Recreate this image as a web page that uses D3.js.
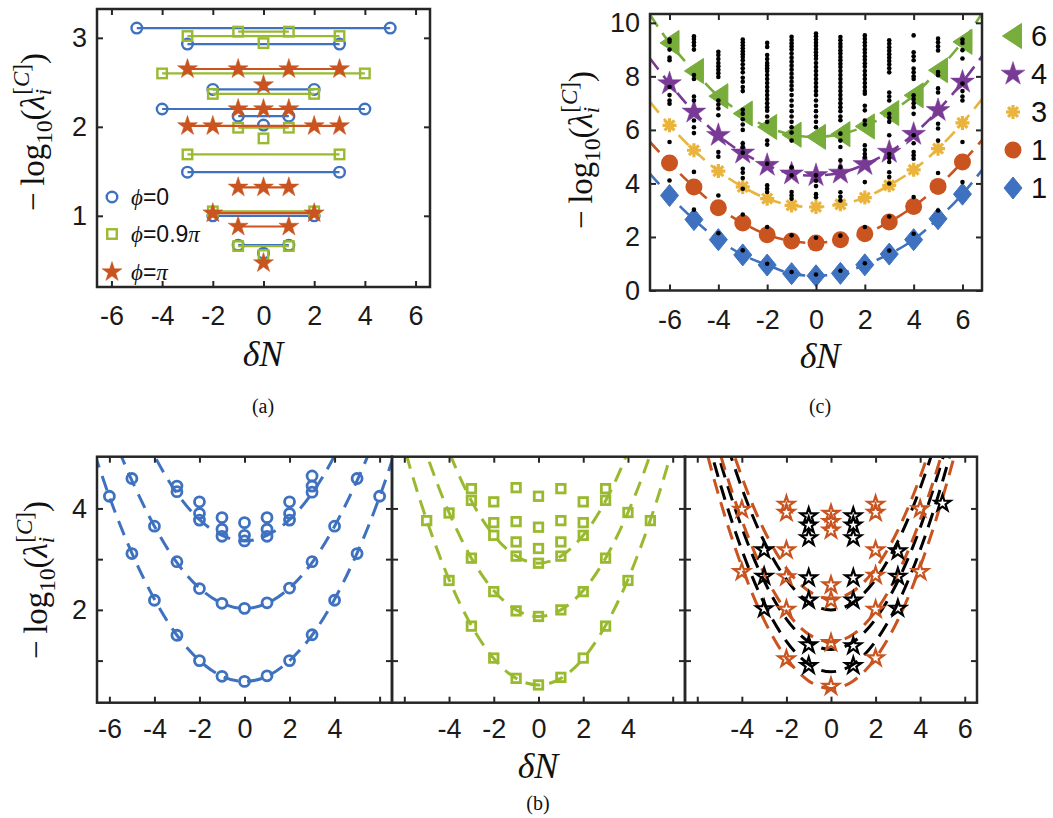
<!DOCTYPE html>
<html><head><meta charset="utf-8">
<script src="https://cdn.jsdelivr.net/npm/d3@7"></script>
<style>body{margin:0;background:#fff}svg{display:block}</style>
</head><body>
<svg id="chart" width="1053" height="818"></svg>
<script>
// ---------------- DATA ----------------
// Panel (a): levels and the deltaN positions of markers on each level
const aBlueLevel = [3.11, 2.93, 2.42, 2.20, 2.12, 2.02, 1.49, 1.00, 0.67, 0.58];
const aBlueDN = [[-5,5],[-3,3],[-2,2],[-4,4],[-1,1],[0],[-3,3],[-2,2],[-1,1],[0]];
const aGreenLevel = [3.07, 3.02, 2.94, 2.60, 2.37, 1.99, 1.87, 1.69, 1.05, 0.66, 0.56];
const aGreenDN = [[-1,1],[-3,3],[0],[-4,4],[-2,2],[-1,1],[0],[-3,3],[-2,2],[-1,1],[0]];
const aOrangeLevel = [2.65, 2.47, 2.20, 2.01, 1.32, 1.03, 0.88, 0.47];
const aOrangeDN = [[-3,-1,1,3],[0],[-1,0,1],[-3,-2,2,3],[-1,0,1],[-2,2],[-1,1],[0]];
const aLegend = ["0", "0.9", ""];
const aXTicks = [-6,-4,-2,0,2,4,6];
const aYTicks = [1,2,3];

// Panel (c)
const cDeltaN = [-6,-5,-4,-3,-2,-1,0,1,2,3,4,5,6];
const cBlue   = [3.55, 2.65, 1.90, 1.33, 0.95, 0.63, 0.55, 0.64, 0.96, 1.36, 1.90, 2.68, 3.60];
const cOrange = [4.76, 3.87, 3.09, 2.52, 2.08, 1.85, 1.77, 1.90, 2.12, 2.56, 3.14, 3.89, 4.80];
const cYellow = [6.17, 5.24, 4.46, 3.87, 3.43, 3.18, 3.12, 3.22, 3.47, 3.93, 4.51, 5.30, 6.26];
const cPurple = [7.73, 6.67, 5.80, 5.14, 4.68, 4.36, 4.30, 4.39, 4.71, 5.17, 5.84, 6.73, 7.79];
const cGreen  = [9.25, 8.20, 7.26, 6.61, 6.11, 5.82, 5.74, 5.84, 6.13, 6.63, 7.29, 8.23, 9.29];
const cEdgeX = [-6.8, 6.8];
const cBlueEdge = [4.36, 4.50];
const cOrangeEdge = [5.55, 5.62];
const cYellowEdge = [7.05, 7.15];
const cPurpleEdge = [8.67, 8.75];
const cGreenEdge = [10.30, 10.35];
const cLegendLabels = ["6", "4", "3", "1", "1"];
const cDotColumns = [
  [9.38, 9.29, 9.0, 8.7, 8.6, 7.6, 7.3, 7.1, 6.98, 5.55, 4.11],
  [9.5, 9.4, 9.27, 9.15, 9.0, 8.05, 7.9, 7.25, 7.1, 6.35, 6.1, 5.88, 4.43, 3.02],
  [8.92, 8.8, 8.65, 8.5, 8.38, 8.25, 8.12, 7.98, 7.1, 6.95, 6.8, 6.55, 5.17, 5.0, 3.55, 2.14],
  [9.38, 9.27, 9.16, 9.05, 8.94, 8.83, 8.72, 8.6, 8.45, 8.3, 8.15, 7.95, 7.8, 7.6, 7.45, 6.75, 6.6, 6.4, 6.2, 6.0, 5.5, 5.35, 5.15, 4.55, 4.4, 4.2, 3.8, 2.84, 1.5],
  [9.25, 9.1, 8.8, 8.65, 8.5, 8.4, 8.3, 8.2, 8.05, 7.9, 7.75, 7.6, 7.45, 7.3, 7.15, 7.0, 6.85, 6.72, 6.5, 6.3, 5.6, 5.45, 4.74, 3.93, 3.8, 3.68, 2.37, 1.0],
  [9.48, 9.36, 9.24, 9.12, 9.0, 8.85, 8.7, 8.55, 8.4, 8.25, 8.1, 7.95, 7.8, 7.65, 7.5, 7.3, 7.1, 6.9, 6.7, 6.5, 6.3, 6.1, 5.9, 5.6, 4.6, 4.3, 3.68, 3.55, 3.43, 2.06, 0.69],
  [9.6, 9.5, 9.38, 9.26, 9.14, 9.02, 8.9, 8.78, 8.66, 8.5, 8.35, 8.2, 8.05, 7.9, 7.75, 7.6, 7.45, 7.3, 7.1, 6.9, 6.7, 6.5, 6.3, 6.1, 4.3, 4.1, 3.9, 3.6, 3.48, 1.97, 0.6],
  [9.47, 9.35, 9.22, 9.1, 8.97, 8.85, 8.72, 8.6, 8.47, 8.35, 8.2, 8.05, 7.9, 7.75, 7.6, 7.45, 7.3, 7.15, 7.0, 6.85, 6.7, 6.5, 6.36, 5.86, 5.6, 5.36, 4.86, 4.61, 3.67, 3.5, 3.36, 2.05, 0.74],
  [9.53, 9.4, 9.27, 9.14, 9.01, 8.88, 8.75, 8.62, 8.49, 8.36, 8.2, 8.05, 7.9, 7.75, 7.6, 7.45, 7.35, 6.9, 6.73, 6.35, 6.2, 5.42, 5.25, 5.1, 4.98, 4.05, 2.37, 1.02],
  [9.35, 9.22, 9.09, 8.96, 8.83, 8.7, 8.57, 8.44, 8.3, 8.15, 7.4, 7.25, 7.1, 6.6, 6.45, 6.3, 5.8, 5.1, 4.95, 4.8, 4.42, 4.24, 4.0, 2.76, 1.49],
  [9.53, 8.9, 8.75, 8.6, 8.29, 8.15, 8.0, 7.9, 7.29, 7.15, 7.0, 6.85, 6.6, 5.8, 5.5, 5.17, 5.05, 4.92, 3.49, 2.12],
  [9.41, 9.27, 9.12, 8.97, 8.16, 8.04, 7.55, 7.4, 6.23, 6.05, 5.6, 4.39, 2.99],
  [9.38, 9.25, 8.98, 8.67, 7.73, 7.45, 7.25, 7.1, 5.55, 4.05]
];
const cXTicks = [-6,-4,-2,0,2,4,6];
const cYTicks = [0,2,4,6,8,10];

// Panel (b)
const bFitX = [-7,-6,-5,-4,-3,-2,-1,0,1,2,3,4,5,6,7];
const bBlueDN  = [-6,-5,-5,-4,-4,-3,-3,-3,-3,-2,-2,-2,-2,-2,-1,-1,-1,-1,-1,0,0,0,0,0,1,1,1,1,1,2,2,2,2,2,3,3,3,3,3,4,4,5,5,6];
const bBlueVal = [4.24,4.59,3.11,3.65,2.19,4.44,4.33,2.95,1.50,4.13,3.90,3.77,2.42,1.00,3.82,3.59,3.45,2.13,0.69,3.72,3.47,3.36,2.03,0.59,3.82,3.59,3.45,2.14,0.70,4.13,3.90,3.77,2.43,1.00,4.64,4.44,4.32,2.95,1.51,3.65,2.19,4.59,3.11,4.24];
const bBlueFit1 = [5.54,4.23,3.12,2.21,1.50,1.00,0.69,0.59,0.69,1.00,1.50,2.21,3.12,4.23,5.54];
const bBlueFit2 = [6.93,5.63,4.55,3.65,2.93,2.43,2.13,2.03,2.13,2.43,2.93,3.65,4.55,5.63,6.93];
const bBlueFit3 = [8.50,7.15,6.00,5.04,4.30,3.78,3.47,3.36,3.47,3.78,4.30,5.04,6.00,7.15,8.50];

const bGreenDN  = [-5,-4,-4,-3,-3,-3,-3,-2,-2,-2,-2,-2,-1,-1,-1,-1,-1,-1,0,0,0,0,0,0,1,1,1,1,1,1,2,2,2,2,2,3,3,3,3,4,4,5];
const bGreenVal = [3.76,3.91,2.58,4.39,4.16,3.02,1.68,4.13,3.72,3.47,2.36,1.05,4.41,3.74,3.34,3.06,1.98,0.65,4.24,3.63,3.21,2.92,1.87,0.52,4.39,3.76,3.34,3.06,2.00,0.67,4.13,3.72,3.47,2.36,1.05,4.39,4.16,3.02,1.68,3.92,2.58,3.76];
const bGreenFit1 = [6.90,5.20,3.77,2.60,1.69,1.04,0.65,0.52,0.65,1.04,1.69,2.60,3.77,5.20,6.90];
const bGreenFit2 = [8.10,6.50,5.07,3.92,3.02,2.38,2.00,1.87,2.00,2.38,3.02,3.92,5.07,6.50,8.10];
const bGreenFit3 = [9.60,7.85,6.35,5.12,4.15,3.47,3.06,2.92,3.06,3.47,4.15,5.12,6.35,7.85,9.60];

const bOrangeDN  = [-4,-4,-2,-2,-2,-2,-2,-2,0,0,0,0,0,0,0,2,2,2,2,2,2,4,4];
const bOrangeVal = [3.98,2.75,4.08,3.92,3.18,2.65,2.01,1.03,3.90,3.74,3.57,2.49,2.19,1.35,0.49,4.08,3.92,3.18,2.68,2.01,1.05,3.99,2.75];
const bBlackDN  = [-3,-3,-3,-1,-1,-1,-1,-1,-1,-1,1,1,1,1,1,1,1,3,3,3,5];
const bBlackVal = [3.18,2.66,2.02,3.85,3.67,3.42,2.63,2.19,1.31,0.90,3.85,3.67,3.42,2.63,2.19,1.29,0.90,3.16,2.66,2.03,4.10];
const bOrangeFit1 = [7.80,5.85,4.20,2.85,1.80,1.05,0.60,0.45,0.60,1.05,1.80,2.85,4.20,5.85,7.80];
const bOrangeFit2 = [8.72,6.77,5.12,3.77,2.72,1.97,1.52,1.37,1.52,1.97,2.72,3.77,5.12,6.77,8.72];
const bOrangeFit3 = [9.57,7.62,5.97,4.62,3.57,2.82,2.37,2.22,2.37,2.82,3.57,4.62,5.97,7.62,9.57];
const bBlackFit1 = [8.13,6.18,4.53,3.18,2.13,1.38,0.93,0.78,0.93,1.38,2.13,3.18,4.53,6.18,8.13];
const bBlackFit2 = [8.57,6.62,4.97,3.62,2.57,1.82,1.37,1.22,1.37,1.82,2.57,3.62,4.97,6.62,8.57];
const bBlackFit3 = [9.35,7.40,5.75,4.40,3.35,2.60,2.15,2.00,2.15,2.60,3.35,4.40,5.75,7.40,9.35];
const bXTicks = [-6,-4,-2,0,2,4,6];
const bYTicks = [1,2,3,4];
const bYShown = [2,4];
const bXShown = [[-6,-4,-2,0,2,4],[-4,-2,0,2,4],[-4,-2,0,2,4,6]];

// ---------------- STYLE ----------------
const BLUE = "#3E71BF", GREEN = "#99BA2F", ORANGE = "#C9541F", PURPLE = "#783A95",
      YELLOW = "#EAB43C", GREENC = "#78AC3B", FRAME = "#262626";
const SANS = "'Liberation Sans', Arial, Helvetica, sans-serif";
const SERIF = "'Liberation Serif', 'Times New Roman', 'DejaVu Serif', serif";

const svg = d3.select("#chart");
let clipCount = 0;

function makePanel(x0, x1, y0, y1, xDom, yDom) {
  const x = d3.scaleLinear().domain(xDom).range([x0, x1]);
  const y = d3.scaleLinear().domain(yDom).range([y1, y0]);
  const id = "clip" + (clipCount++);
  svg.append("clipPath").attr("id", id).append("rect")
    .attr("x", x0).attr("y", y0).attr("width", x1 - x0).attr("height", y1 - y0);
  const g = svg.append("g");
  const plot = g.append("g").attr("clip-path", `url(#${id})`);
  return {x, y, g, plot, x0, x1, y0, y1};
}

function styleAxis(sel) {
  sel.select(".domain").remove();
  sel.selectAll(".tick line").attr("stroke", FRAME).attr("stroke-width", 2);
  sel.selectAll(".tick text").attr("font-family", SANS).attr("font-size", 27).attr("fill", "#1a1a1a");
}

function drawFrame(p, xTicks, xShown, yTicks, yShown, padX) {
  const g = p.g.append("g");
  g.append("g").attr("transform", `translate(0,${p.y1})`)
    .call(d3.axisBottom(p.x).tickValues(xTicks).tickSize(-6).tickPadding(padX)
      .tickFormat(d => xShown.includes(d) ? String(d) : "")).call(styleAxis);
  g.append("g").attr("transform", `translate(0,${p.y0})`)
    .call(d3.axisTop(p.x).tickValues(xTicks).tickSize(-6).tickFormat("")).call(styleAxis);
  g.append("g").attr("transform", `translate(${p.x0},0)`)
    .call(d3.axisLeft(p.y).tickValues(yTicks).tickSize(-6).tickPadding(10)
      .tickFormat(d => yShown.includes(d) ? String(d) : "")).call(styleAxis);
  g.append("g").attr("transform", `translate(${p.x1},0)`)
    .call(d3.axisRight(p.y).tickValues(yTicks).tickSize(-6).tickFormat("")).call(styleAxis);
  g.append("rect").attr("x", p.x0).attr("y", p.y0).attr("width", p.x1 - p.x0).attr("height", p.y1 - p.y0)
    .attr("fill", "none").attr("stroke", FRAME).attr("stroke-width", 2.5);
}

function yLabel(cx, cy, size) {
  const t = svg.append("text").attr("transform", `translate(${cx},${cy}) rotate(-90)`)
    .attr("text-anchor", "middle").attr("font-family", SERIF).attr("font-size", size).attr("fill", "#111");
  t.append("tspan").text("\u2212\u2009log");
  t.append("tspan").attr("font-size", size * 0.7).attr("dy", size * 0.25).text("10");
  t.append("tspan").attr("dy", -size * 0.25).text("(");
  t.append("tspan").attr("font-style", "italic").text("λ");
  t.append("tspan").attr("font-size", size * 0.7).attr("font-style", "italic").attr("dy", size * 0.22).text("i");
  t.append("tspan").attr("font-size", size * 0.7).attr("dx", -size * 0.18).attr("dy", -size * 0.68).text("[");
  t.append("tspan").attr("font-size", size * 0.7).attr("font-style", "italic").text("C");
  t.append("tspan").attr("font-size", size * 0.7).text("]");
  t.append("tspan").attr("dy", size * 0.46).text(")");
}

function xLabel(cx, cy, size) {
  svg.append("text").attr("x", cx).attr("y", cy).attr("text-anchor", "middle")
    .attr("font-family", SERIF).attr("font-style", "italic").attr("font-size", size).attr("fill", "#111")
    .text("δN");
}
function caption(cx, cy, s) {
  svg.append("text").attr("x", cx).attr("y", cy).attr("text-anchor", "middle")
    .attr("font-family", SERIF).attr("font-size", 20).attr("fill", "#111").text(s);
}

// marker helpers
const starPath = r => d3.symbol(d3.symbolStar, r * r / 0.8908130915292852)();
function circleM(g, cx, cy, r, stroke, fill, sw) {
  g.append("circle").attr("cx", cx).attr("cy", cy).attr("r", r)
    .attr("fill", fill).attr("stroke", stroke).attr("stroke-width", sw);
}
function squareM(g, cx, cy, s, stroke, fill, sw) {
  g.append("rect").attr("x", cx - s / 2).attr("y", cy - s / 2).attr("width", s).attr("height", s)
    .attr("fill", fill).attr("stroke", stroke).attr("stroke-width", sw);
}
function starM(g, cx, cy, r, stroke, fill, sw) {
  g.append("path").attr("d", starPath(r)).attr("transform", `translate(${cx},${cy})`)
    .attr("fill", fill).attr("stroke", stroke).attr("stroke-width", sw).attr("stroke-linejoin", "miter");
}
function diamondM(g, cx, cy, hw, hh, color) {
  g.append("path").attr("d", `M${cx},${cy - hh}L${cx + hw},${cy}L${cx},${cy + hh}L${cx - hw},${cy}Z`)
    .attr("fill", color).attr("stroke", color).attr("stroke-width", 1);
}
function triLeftM(g, cx, cy, w, h, color) {
  g.append("path").attr("d", `M${cx - w / 2},${cy}L${cx + w / 2},${cy - h / 2}L${cx + w / 2},${cy + h / 2}Z`)
    .attr("fill", color).attr("stroke", color).attr("stroke-width", 1);
}
function asteriskM(g, cx, cy, r, color) {
  const gg = g.append("g").attr("transform", `translate(${cx},${cy})`);
  [0, 45, 90, 135].forEach(a => {
    gg.append("line").attr("x1", -r).attr("x2", r).attr("y1", 0).attr("y2", 0)
      .attr("transform", `rotate(${a})`).attr("stroke", color).attr("stroke-width", 3.2);
  });
  gg.append("circle").attr("r", r * 0.55).attr("fill", color);
}

// ================= PANEL (a) =================
{
  const p = makePanel(97, 430, 9, 287, [-6.57, 6.57], [0.2, 3.324]);
  const drawRows = (levels, dns, color, marker) => {
    levels.forEach((lv, i) => {
      const xs = dns[i];
      if (xs.length > 1) {
        p.plot.append("line").attr("x1", p.x(d3.min(xs))).attr("x2", p.x(d3.max(xs)))
          .attr("y1", p.y(lv)).attr("y2", p.y(lv)).attr("stroke", color).attr("stroke-width", 2.2);
      }
      xs.forEach(xv => marker(p.plot, p.x(xv), p.y(lv)));
    });
  };
  drawRows(aBlueLevel, aBlueDN, BLUE, (g, cx, cy) => circleM(g, cx, cy, 5.3, BLUE, "none", 2.4));
  drawRows(aGreenLevel, aGreenDN, GREEN, (g, cx, cy) => squareM(g, cx, cy, 9.5, GREEN, "none", 2.4));
  drawRows(aOrangeLevel, aOrangeDN, ORANGE, (g, cx, cy) => starM(g, cx, cy, 10.5, ORANGE, ORANGE, 0.5));
  drawFrame(p, aXTicks, aXTicks, aYTicks, aYTicks, 19);

  // legend
  const lg = svg.append("g");
  const ly = [197, 234, 272];
  circleM(lg, 112, ly[0], 5.3, BLUE, "none", 2.4);
  squareM(lg, 112, ly[1], 9.5, GREEN, "none", 2.4);
  starM(lg, 112, ly[2], 10.5, ORANGE, ORANGE, 0.5);
  ly.forEach((yy, i) => {
    const t = lg.append("text").attr("x", 131).attr("y", yy + 8).attr("font-size", 23).attr("fill", "#111");
    t.append("tspan").attr("font-family", SERIF).attr("font-style", "italic").text("ϕ");
    t.append("tspan").attr("font-family", SANS).text("=" + aLegend[i]);
    if (i > 0) t.append("tspan").attr("font-family", SERIF).attr("font-style", "italic").text("π");
  });

  yLabel(44, 132, 33);
  xLabel(263, 366, 36);
  caption(263, 413, "(a)");
}

// ================= PANEL (c) =================
{
  const p = makePanel(650, 982, 14, 290.5, [-6.8, 6.8], [0, 10.33]);
  const series = [
    {vals: cBlue, edge: cBlueEdge, color: BLUE, m: (g, cx, cy) => diamondM(g, cx, cy, 9, 11, BLUE)},
    {vals: cOrange, edge: cOrangeEdge, color: ORANGE, m: (g, cx, cy) => circleM(g, cx, cy, 8.5, ORANGE, ORANGE, 0)},
    {vals: cYellow, edge: cYellowEdge, color: YELLOW, m: (g, cx, cy) => asteriskM(g, cx, cy, 7, YELLOW)},
    {vals: cPurple, edge: cPurpleEdge, color: PURPLE, m: (g, cx, cy) => starM(g, cx, cy, 12.5, PURPLE, PURPLE, 0.5)},
    {vals: cGreen, edge: cGreenEdge, color: GREENC, m: (g, cx, cy) => triLeftM(g, cx, cy, 19, 25, GREENC)}
  ];
  const line = d3.line().x(d => p.x(d[0])).y(d => p.y(d[1])).curve(d3.curveCatmullRom.alpha(0.5));
  series.forEach(s => {
    const pts = [[cEdgeX[0], s.edge[0]], ...cDeltaN.map((d, i) => [d, s.vals[i]]), [cEdgeX[1], s.edge[1]]];
    p.plot.append("path").attr("d", line(pts)).attr("fill", "none").attr("stroke", s.color)
      .attr("stroke-width", 2.6).attr("stroke-dasharray", "14,8");
    cDeltaN.forEach((d, i) => s.m(p.plot, p.x(d), p.y(s.vals[i])));
  });
  cDotColumns.forEach((col, i) => {
    col.forEach(v => p.plot.append("circle").attr("cx", p.x(cDeltaN[i])).attr("cy", p.y(v)).attr("r", 2.3).attr("fill", "#000"));
  });
  drawFrame(p, cXTicks, cXTicks, cYTicks, cYTicks, 19);

  // legend
  const lg = svg.append("g");
  const ly = [36, 74, 112, 150, 188];
  triLeftM(lg, 1012, ly[0], 19, 25, GREENC);
  starM(lg, 1013, ly[1], 12.5, PURPLE, PURPLE, 0.5);
  asteriskM(lg, 1013, ly[2], 7, YELLOW);
  circleM(lg, 1013, ly[3], 8.5, ORANGE, ORANGE, 0);
  diamondM(lg, 1013, ly[4], 9, 11, BLUE);
  cLegendLabels.forEach((s, i) => {
    lg.append("text").attr("x", 1031).attr("y", ly[i] + 10).attr("font-family", SANS)
      .attr("font-size", 29).attr("fill", "#111").text(s);
  });

  yLabel(592, 150, 33);
  xLabel(820, 368, 36);
  caption(820, 413, "(c)");
}

// ================= PANEL (b) =================
{
  const bounds = [[97, 392], [392, 685], [685, 977]];
  const panels = bounds.map(b => makePanel(b[0], b[1], 456.7, 702.7, [-6.55, 6.55], [0.17, 5.02]));
  const fitLine = p => d3.line().x(d => p.x(d[0])).y(d => p.y(d[1])).curve(d3.curveNatural);
  const drawFit = (p, arr, color) => {
    p.plot.append("path").attr("d", fitLine(p)(bFitX.map((x, i) => [x, arr[i]])))
      .attr("fill", "none").attr("stroke", color).attr("stroke-width", 3).attr("stroke-dasharray", "15,9");
  };
  // b1
  const p1 = panels[0];
  [bBlueFit1, bBlueFit2, bBlueFit3].forEach(f => drawFit(p1, f, BLUE));
  bBlueDN.forEach((d, i) => circleM(p1.plot, p1.x(d), p1.y(bBlueVal[i]), 5, BLUE, "none", 2.8));
  // b2
  const p2 = panels[1];
  [bGreenFit1, bGreenFit2, bGreenFit3].forEach(f => drawFit(p2, f, GREEN));
  bGreenDN.forEach((d, i) => squareM(p2.plot, p2.x(d), p2.y(bGreenVal[i]), 8.5, GREEN, "none", 2.8));
  // b3
  const p3 = panels[2];
  drawFit(p3, bOrangeFit1, ORANGE);
  drawFit(p3, bBlackFit1, "#000");
  drawFit(p3, bBlackFit2, "#000");
  drawFit(p3, bOrangeFit2, ORANGE);
  drawFit(p3, bBlackFit3, "#000");
  drawFit(p3, bOrangeFit3, ORANGE);
  bOrangeDN.forEach((d, i) => starM(p3.plot, p3.x(d), p3.y(bOrangeVal[i]), 8.5, ORANGE, "none", 2.2));
  bBlackDN.forEach((d, i) => starM(p3.plot, p3.x(d), p3.y(bBlackVal[i]), 8.5, "#000", "none", 2.2));

  panels.forEach((p, i) => drawFrame(p, bXTicks, bXShown[i], bYTicks, i === 0 ? bYShown : [], 16));

  yLabel(47, 580, 33);
  xLabel(538, 778, 36);
  caption(538, 810, "(b)");
}
</script>
</body></html>
